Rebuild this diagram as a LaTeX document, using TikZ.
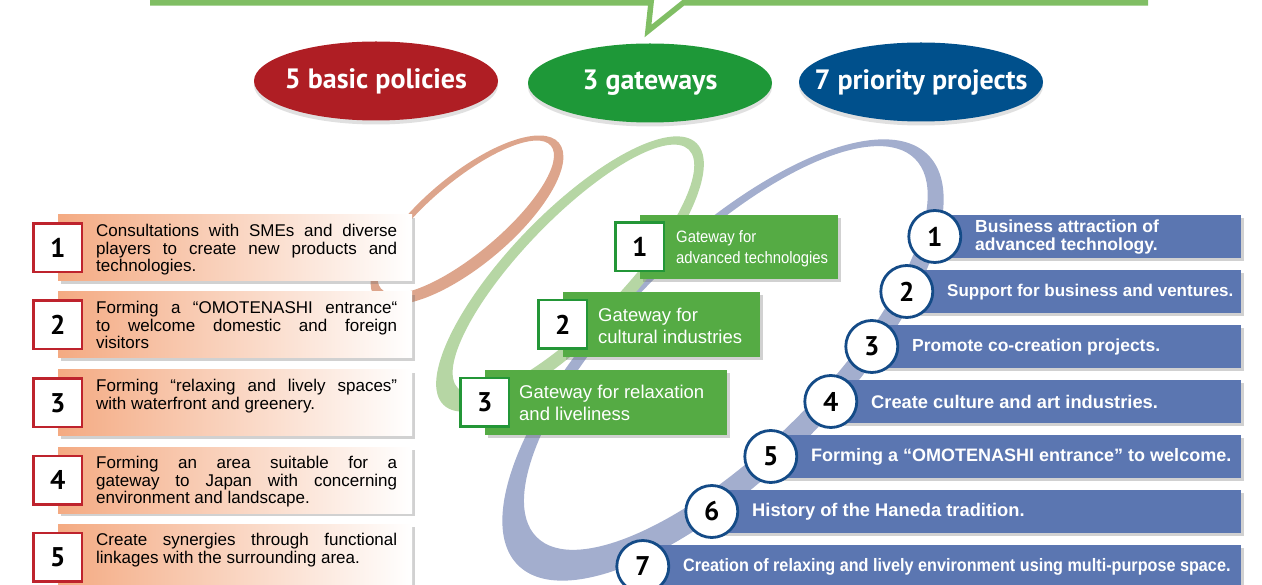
\documentclass[tikz,border=0pt]{standalone}
\usepackage{fontspec}
\setmainfont{Liberation Sans}
\newfontfamily\narrowfont[FakeStretch=0.9]{Liberation Sans}
\newfontfamily\headfont{PT Sans}
\usetikzlibrary{shapes.geometric,shadows}

\definecolor{linegreen}{RGB}{128,190,100}
\definecolor{polred}{RGB}{175,30,36}
\definecolor{gatgreen}{RGB}{30,152,56}
\definecolor{prjblue}{RGB}{0,80,140}
\definecolor{ringorange}{RGB}{221,165,140}
\definecolor{ringgreen}{RGB}{182,214,164}
\definecolor{ringblue}{RGB}{163,174,206}
\definecolor{salmon}{RGB}{244,170,130}
\definecolor{boxgreen}{RGB}{85,171,68}
\definecolor{boxblue}{RGB}{91,118,177}
\definecolor{numred}{RGB}{190,35,45}
\definecolor{numgreen}{RGB}{35,150,55}
\definecolor{numblue}{RGB}{20,75,135}

\tikzset{
  softshadow/.style={drop shadow={shadow xshift=3pt, shadow yshift=-3pt, opacity=0.3, fill=black!60}},
  headoval/.style={ellipse, minimum width=244pt, minimum height=79pt, inner sep=0pt, text=white,
    font=\headfont\bfseries\fontsize{28}{32}\selectfont,
    drop shadow={shadow xshift=0pt, shadow yshift=-4pt, opacity=0.2, fill=black!60}},
  polbox/.style={rectangle, minimum width=354pt, minimum height=66pt, inner sep=0pt,
    left color=salmon, right color=white, softshadow},
  polnum/.style={rectangle, draw=numred, line width=2.5pt, fill=white, minimum size=48.5pt, inner sep=0pt,
    font=\headfont\bfseries\fontsize{27}{27}\selectfont},
  poltext/.style={anchor=north west, text width=301pt, align=justify, inner sep=0pt,
    font=\fontsize{17}{17.7}\selectfont},
  gatbox/.style={rectangle, fill=boxgreen, inner sep=0pt, softshadow},
  gatnum/.style={rectangle, draw=numgreen, line width=2.5pt, fill=white, minimum size=48.5pt, inner sep=0pt,
    font=\headfont\bfseries\fontsize{27}{27}\selectfont},
  gattext/.style={anchor=west, align=left, text=white, inner sep=0pt, font=\fontsize{18.5}{22}\selectfont},
  prjbox/.style={rectangle, fill=boxblue, minimum height=43pt, inner sep=0pt, softshadow},
  prjnum/.style={circle, draw=numblue, line width=2.8pt, fill=white, minimum size=52pt, inner sep=0pt,
    font=\headfont\bfseries\fontsize{27}{27}\selectfont},
  prjtext/.style={anchor=west, align=left, text=white, inner sep=0pt, font=\bfseries\fontsize{17.5}{18}\selectfont},
}

\begin{document}
\begin{tikzpicture}[x=1pt,y=-1pt]
  \useasboundingbox (0,0) rectangle (1262,585);

  % the three rings behind everything
  \fill[ringblue, even odd rule, rotate around={45:(723,360)}]
    (723,360) ellipse [x radius=290pt, y radius=115pt]
    (733.5,353.5) ellipse [x radius=267.5pt, y radius=99.5pt];
  \fill[ringgreen, even odd rule, rotate around={46:(570,274)}]
    (570,274) ellipse [x radius=182pt, y radius=61pt]
    (576,273) ellipse [x radius=166pt, y radius=50pt];
  \fill[ringorange, even odd rule, rotate around={40:(467,220)}]
    (467,220) ellipse [x radius=120pt, y radius=45pt]
    (468,217) ellipse [x radius=111pt, y radius=36pt];

  % bottom edge of the speech bubble
  \draw[linegreen, line width=5.5pt, line join=miter] (150,3) -- (651,3) -- (648,31) -- (683,3) -- (1148,3);

  \begin{scope}[every node/.style={headoval}]
    \node (policies) [fill=polred] at (376, 81) {\makebox[0pt]{5 basic policies}};
    \node (gateways) [fill=gatgreen] at (650, 83) {\makebox[0pt]{3 gateways}};
    \node (projects) [fill=prjblue] at (921, 82) {\makebox[0pt]{7 priority projects}};
  \end{scope}

  % 5 basic policies
  \begin{scope}[every node/.style={polbox}]
    \node (P1) at (235, 248) {};
    \node (P2) at (235, 325) {};
    \node (P3) at (235, 403) {};
    \node (P4) at (235, 480) {};
    \node (P5) at (235, 557) {};
  \end{scope}
  \begin{scope}[every node/.style={polnum}]
    \node (P1n) at (P1.west) {1};
    \node (P2n) at (P2.west) {2};
    \node (P3n) at (P3.west) {3};
    \node (P4n) at (P4.west) {4};
    \node (P5n) at (P5.west) {5};
  \end{scope}
  \begin{scope}[every node/.style={poltext}]
    \node (P1t) at (96, 224) {Consultations with SMEs and diverse\linebreak players to create new products and\linebreak technologies.};
    \node (P2t) at (96, 301) {Forming a “OMOTENASHI entrance“\linebreak to welcome domestic and foreign\linebreak visitors};
    \node (P3t) at (96, 379) {Forming “relaxing and lively spaces”\linebreak with waterfront and greenery.};
    \node (P4t) at (96, 456) {Forming an area suitable for a\linebreak gateway to Japan with concerning\linebreak environment and landscape.};
    \node (P5t) at (96, 533) {Create synergies through functional\linebreak linkages with the surrounding area.};
  \end{scope}

  % 3 gateways
  \begin{scope}[every node/.style={gatbox}]
    \node (G1) [minimum width=198pt, minimum height=64pt] at (739, 247) {};
    \node (G2) [minimum width=197pt, minimum height=65pt] at (661.5, 324.5) {};
    \node (G3) [minimum width=242pt, minimum height=65pt] at (606, 402.5) {};
  \end{scope}
  \begin{scope}[every node/.style={gatnum}]
    \node (G1n) at (G1.west) {1};
    \node (G2n) at (G2.west) {2};
    \node (G3n) at (G3.west) {3};
  \end{scope}
  \begin{scope}[every node/.style={gattext}]
    \node (G1t) [font=\narrowfont\fontsize{16.5}{21}\selectfont] at (676, 248.5) {Gateway for\\advanced technologies};
    \node (G2t) at (598, 326) {Gateway for\\cultural industries};
    \node (G3t) at (519, 402.5) {Gateway for relaxation\\and liveliness};
  \end{scope}

  % 7 priority projects
  \begin{scope}[every node/.style={prjbox}]
    \node (B1) [minimum width=306pt] at (1088, 236.5) {};
    \node (B2) [minimum width=334pt] at (1074, 291.5) {};
    \node (B3) [minimum width=369pt] at (1056.5, 346.5) {};
    \node (B4) [minimum width=410pt] at (1036, 401.5) {};
    \node (B5) [minimum width=470pt] at (1006, 456.5) {};
    \node (B6) [minimum width=529pt] at (976.5, 511.5) {};
    \node (B7) [minimum width=598pt] at (942, 566.5) {};
  \end{scope}
  \begin{scope}[every node/.style={prjnum}]
    \node (B1n) at (B1.west) {1};
    \node (B2n) at (B2.west) {2};
    \node (B3n) at (B3.west) {3};
    \node (B4n) at (B4.west) {4};
    \node (B5n) at (B5.west) {5};
    \node (B6n) at (B6.west) {6};
    \node (B7n) at (B7.west) {7};
  \end{scope}
  \begin{scope}[every node/.style={prjtext}]
    \node (B1t) at (975, 237) {Business attraction of\\advanced technology.};
    \node (B2t) [font=\bfseries\fontsize{17}{18}\selectfont] at (947, 292) {Support for business and ventures.};
    \node (B3t) at (912, 347) {Promote co-creation projects.};
    \node (B4t) [font=\bfseries\fontsize{18.3}{19}\selectfont] at (871, 402) {Create culture and art industries.};
    \node (B5t) [font=\bfseries\fontsize{18}{19}\selectfont] at (811, 457) {Forming a “OMOTENASHI entrance” to welcome.};
    \node (B6t) [font=\bfseries\fontsize{18.3}{19}\selectfont] at (752, 512) {History of the Haneda tradition.};
    \node (B7t) [font=\narrowfont\bfseries\fontsize{18}{19}\selectfont] at (683, 567) {Creation of relaxing and lively environment using multi-purpose space.};
  \end{scope}
\end{tikzpicture}
\end{document}
